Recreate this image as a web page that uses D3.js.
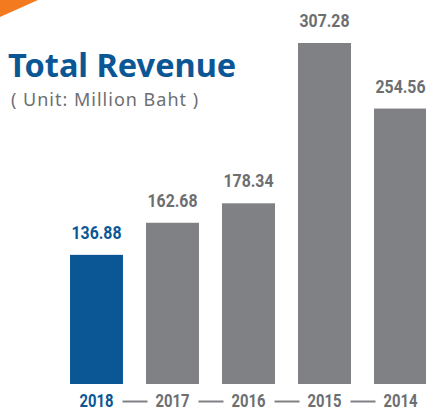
<!DOCTYPE html>
<html>
<head>
<meta charset="utf-8">
<script src="https://cdn.jsdelivr.net/npm/d3@7"></script>
<style>
  body { margin: 0; background: #fff; }
  svg { display: block; }
</style>
</head>
<body>
<script>
var years = ['2018', '2017', '2016', '2015', '2014'];
var revenue = [136.88, 162.68, 178.34, 307.28, 254.56];
var highlightYear = '2018';

var w = 426,
    h = 413;
var blue = '#0b5796',
    gray = '#808184',
    labelGray = '#6d6e71';
var numFont = 'Roboto, sans-serif';

var svg = d3.select('body')
    .append('svg')
    .attr('width', w)
    .attr('height', h);

// orange corner
svg.append('path')
    .attr('d', 'M0,0L38,0L0,17Z')
    .attr('fill', '#f47a20');

svg.append('text')
    .attr('x', 8)
    .attr('y', 77)
    .attr('font-family', 'Noto Sans, sans-serif')
    .attr('font-weight', 'bold')
    .attr('font-size', 32.5)
    .attr('fill', blue)
    .text('Total Revenue');

svg.append('text')
    .attr('x', 11)
    .attr('y', 106)
    .attr('font-family', 'Noto Sans, sans-serif')
    .attr('font-size', 18)
    .attr('letter-spacing', 1)
    .attr('fill', labelGray)
    .text('( Unit: Million Baht )');

// band scale: bars 53px wide on a 76px step
var x = d3.scaleBand()
    .domain(years)
    .range([70, 427])
    .paddingInner(0.303)
    .paddingOuter(0);

// bars don't start at zero in the original artwork
var y = d3.scaleLinear()
    .domain([33, 307.28])
    .range([384, 43]);

var data = years.map(function(d, i) { return { year: d, value: revenue[i] }; });
var cx = function(d) { return x(d) + x.bandwidth() / 2; };

svg.selectAll('rect.bar')
    .data(data)
    .enter()
    .append('rect')
    .attr('class', 'bar')
    .attr('x', function(d) { return x(d.year); })
    .attr('width', x.bandwidth())
    .attr('y', function(d) { return y(d.value); })
    .attr('height', function(d) { return y.range()[0] - y(d.value); })
    .attr('fill', function(d) { return d.year === highlightYear ? blue : gray; });

// condensed look of the original numerals: squeeze glyphs a bit
svg.selectAll('text.val')
    .data(data)
    .enter()
    .append('text')
    .attr('class', 'val')
    .attr('x', function(d) { return cx(d.year); })
    .attr('y', function(d) { return y(d.value) - 16; })
    .attr('text-anchor', 'middle')
    .attr('font-family', numFont)
    .attr('font-weight', 'bold')
    .attr('font-size', 18)
    .attr('textLength', 50)
    .attr('lengthAdjust', 'spacingAndGlyphs')
    .attr('fill', function(d) { return d.year === highlightYear ? blue : labelGray; })
    .text(function(d) { return d3.format('.2f')(d.value); });

svg.selectAll('text.year')
    .data(data)
    .enter()
    .append('text')
    .attr('class', 'year')
    .attr('x', function(d) { return cx(d.year); })
    .attr('y', 407)
    .attr('text-anchor', 'middle')
    .attr('font-family', numFont)
    .attr('font-weight', 'bold')
    .attr('font-size', 17.5)
    .attr('textLength', 34)
    .attr('lengthAdjust', 'spacingAndGlyphs')
    .attr('fill', function(d) { return d.year === highlightYear ? blue : labelGray; })
    .text(function(d) { return d.year; });

// dashes between year labels
svg.selectAll('line.dash')
    .data(d3.pairs(years))
    .enter()
    .append('line')
    .attr('class', 'dash')
    .attr('x1', function(d) { return cx(d[0]) + 26; })
    .attr('x2', function(d) { return cx(d[1]) - 25; })
    .attr('y1', 401.5)
    .attr('y2', 401.5)
    .attr('stroke', gray)
    .attr('stroke-width', 2);
</script>
</body>
</html>
